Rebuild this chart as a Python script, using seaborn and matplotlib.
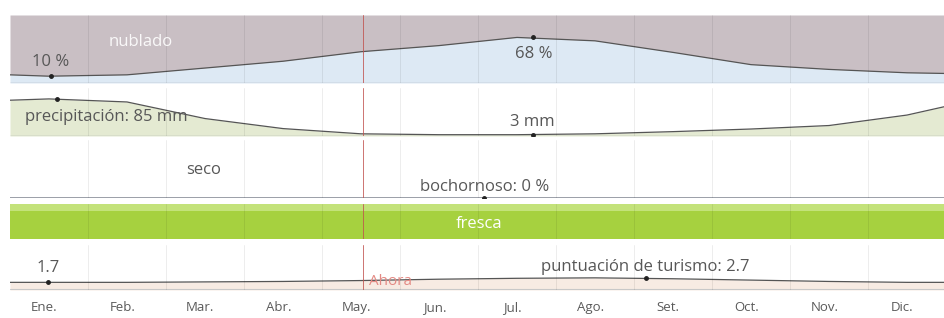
import numpy as np
import pandas as pd
import matplotlib
matplotlib.use("Agg")
import matplotlib.pyplot as plt
import seaborn as sns

sns.set_style("white")
plt.rcParams["font.family"] = ["Open Sans", "DejaVu Sans"]

# month labels and month positions (0 = 1 Jan, 12 = 31 Dec)
months = ["Ene.", "Feb.", "Mar.", "Abr.", "May.", "Jun.", "Jul.", "Ago.", "Set.", "Oct.", "Nov.", "Dic."]
month_pos = [0, 0.5, 1.5, 2.5, 3.5, 4.5, 5.5, 6.5, 7.5, 8.5, 9.5, 10.5, 11.5, 12]

# cloud band: % of time clear / mostly clear
clear_pct = [12, 10, 12, 22, 32, 46, 55, 67, 62, 45, 27, 20, 15, 14]
# precipitation (mm)
precip_mm = [82, 85, 78, 40, 17, 5, 3, 3, 5, 10, 16, 24, 48, 68]
# muggy days (%)
muggy_pct = [0, 0, 0, 0, 0, 0, 0, 0, 0, 0, 0, 0, 0, 0]
# tourism score
tourism = [1.7, 1.7, 1.7, 1.8, 1.9, 2.1, 2.4, 2.6, 2.7, 2.5, 2.2, 1.9, 1.7, 1.7]

# highlighted values (month position, value)
clear_min = (0.52, 10)
clear_max = (6.71, 68)
precip_max = (0.6, 85)
precip_min = (6.7, 3)
muggy_mark = (6.08, 0)
tour_min = (0.49, 1.7)
tour_max = (8.15, 2.7)
now = 4.52

df = pd.DataFrame({"mes": month_pos, "despejado": clear_pct, "precip": precip_mm,
                   "bochornoso": muggy_pct, "turismo": tourism})

W, H = 944, 318
fig = plt.figure(figsize=(W / 100, H / 100), dpi=100)


def band(top, bottom):
    ax = fig.add_axes([10 / W, 1 - bottom / H, 936 / W, (bottom - top) / H])
    ax.set_xlim(0, 12)
    for s in ax.spines.values():
        s.set_visible(False)
    ax.set_xticks([])
    ax.set_yticks([])
    for m in range(1, 12):
        ax.axvline(m, color="black", alpha=0.07, lw=0.7, zorder=2.5)
    return ax


txt = "#575757"
fs = 12

# ---- cloud cover
ax1 = band(15, 83)
ax1.set_ylim(0, 100)
ax1.fill_between(df.mes, df.despejado, 100, color="#c9bfc4", lw=0)
ax1.fill_between(df.mes, 0, df.despejado, color="#dde9f4", lw=0)
sns.lineplot(data=df, x="mes", y="despejado", ax=ax1, color="#555555", lw=0.9)
ax1.axhline(0, color="#8a8f99", lw=0.9)
ax1.plot(*clear_min, "o", color="#222222", ms=2.5)
ax1.plot(*clear_max, "o", color="#222222", ms=2.5)
ax1.text(clear_min[0], 31, "10 %", ha="center", va="center", fontsize=fs, color=txt)
ax1.text(clear_max[0], 43, "68 %", ha="center", va="center", fontsize=fs, color=txt)
ax1.text(1.68, 60, "nublado", ha="center", va="center", fontsize=fs, color="white", alpha=0.9)
ax1.set_xlabel("")
ax1.set_ylabel("")

# ---- precipitation
ax2 = band(88, 136)
ax2.set_ylim(0, 110)
ax2.fill_between(df.mes, 0, df.precip, color="#e4ead2", lw=0)
sns.lineplot(data=df, x="mes", y="precip", ax=ax2, color="#555555", lw=0.9)
ax2.axhline(1, color="#8a8f99", lw=0.9)
ax2.plot(*precip_max, "o", color="#222222", ms=2.5)
ax2.plot(*precip_min, "o", color="#222222", ms=2.5)
ax2.text(0.19, 43, "precipitación: 85 mm", ha="left", va="center", fontsize=fs, color=txt)
ax2.text(precip_min[0], 31, "3 mm", ha="center", va="center", fontsize=fs, color=txt)
ax2.set_xlabel("")
ax2.set_ylabel("")

# ---- humidity
ax3 = band(140, 198)
ax3.set_ylim(0, 100)
sns.lineplot(data=df, x="mes", y="bochornoso", ax=ax3, color="#8a8f99", lw=1.2)
ax3.plot(*muggy_mark, "o", color="#222222", ms=2.5)
ax3.text(2.48, 48, "seco", ha="center", va="center", fontsize=fs, color=txt)
ax3.text(muggy_mark[0], 19, "bochornoso: 0 %", ha="center", va="center", fontsize=fs, color=txt)
ax3.set_xlabel("")
ax3.set_ylabel("")

# ---- temperature feel
ax4 = band(204, 239)
ax4.set_ylim(0, 1)
ax4.axhspan(0, 1, color="#a6d13f", lw=0, zorder=0.2)
ax4.axhspan(0.8, 1, color="#c3e27a", lw=0, zorder=0.3)
ax4.text(6.01, 0.43, "fresca", ha="center", va="center", fontsize=fs, color="white")

# ---- tourism score
ax5 = band(245, 290)
ax5.set_ylim(0, 10)
ax5.fill_between(df.mes, 0, df.turismo, color="#f7ebe3", lw=0)
sns.lineplot(data=df, x="mes", y="turismo", ax=ax5, color="#555555", lw=0.9)
ax5.axhline(0.3, color="#c8c8c8", lw=0.8)
ax5.plot(*tour_min, "o", color="#222222", ms=2.5)
ax5.plot(*tour_max, "o", color="#222222", ms=2.5)
ax5.text(tour_min[0], 4.8, "1.7", ha="center", va="center", fontsize=fs, color=txt)
ax5.text(tour_max[0], 5.1, "puntuación de turismo: 2.7", ha="center", va="center", fontsize=fs, color=txt)
ax5.text(now + 0.36, 1.9, "Ahora", ha="center", va="center", fontsize=11, color="#e48a84")
ax5.set_xlabel("")
ax5.set_ylabel("")
ax5.set_xticks(np.arange(12) + 0.44)
ax5.set_xticklabels(months, fontsize=9.5, color="#5a5a5a")
ax5.tick_params(axis="x", length=0, pad=8)

for ax in [ax1, ax2, ax3, ax4, ax5]:
    ax.axvline(now, color="#c0504d", lw=0.7, alpha=0.8, zorder=3)

fig.savefig("out.png", dpi=100)
